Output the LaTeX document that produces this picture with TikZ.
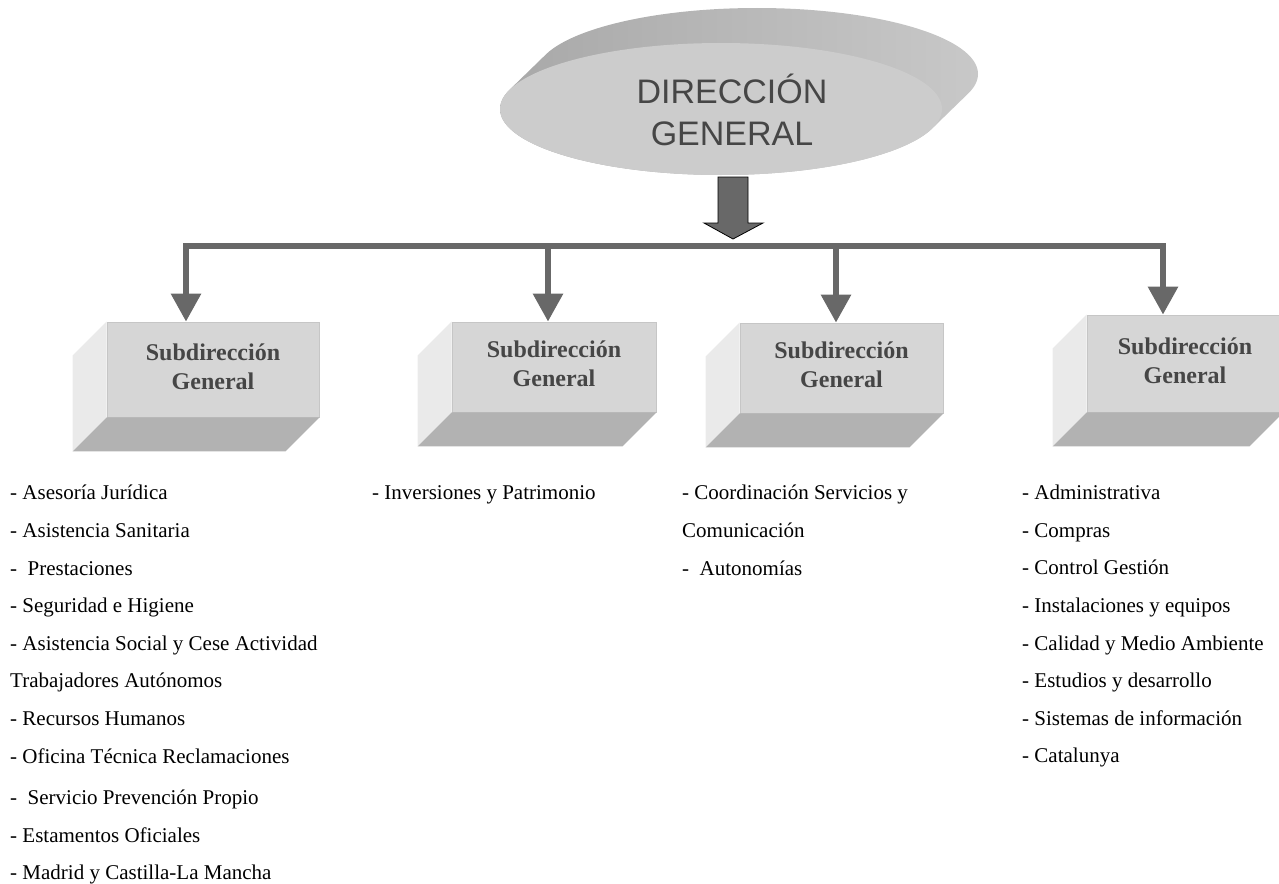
\documentclass[tikz,border=0pt]{standalone}
\usepackage{fontspec}
\setmainfont{Liberation Serif}
\newfontfamily\discfont{Liberation Sans}
\usetikzlibrary{arrows.meta,calc}
\definecolor{BoxFront}{RGB}{214,214,214}
\definecolor{BoxEdge}{RGB}{198,198,198}
\definecolor{BoxSide}{RGB}{234,234,234}
\definecolor{BoxBottom}{RGB}{178,178,178}
\definecolor{ArrowGray}{RGB}{104,104,104}
\definecolor{DiscFront}{RGB}{204,204,204}
\definecolor{DiscSideDark}{RGB}{168,168,168}
\definecolor{DiscSideLight}{RGB}{200,200,200}
\definecolor{TextGray}{RGB}{70,70,70}

\begin{document}
\begin{tikzpicture}[
    x=1pt, y=-1pt,
    disctext/.style={align=center, text=TextGray, inner sep=0pt, font=\discfont\fontsize{34pt}{42pt}\selectfont},
    subbox/.style={rectangle, fill=BoxFront, draw=BoxEdge, line width=0.8pt, inner sep=0pt, align=center, text=TextGray, text depth=6pt, font=\bfseries\fontsize{24pt}{29pt}\selectfont},
    tasks/.style={anchor=north west, inner sep=0pt, align=left, font=\fontsize{21pt}{37.6pt}\selectfont},
    bus/.style={draw=ArrowGray, line width=6pt, line cap=rect},
    drop/.style={draw=ArrowGray, line width=6pt, -{Triangle[width=29pt,length=28pt]}}
  ]
    \path[use as bounding box] (0,0) rectangle (1279,883);

    % Direction disc
    \path[left color=DiscSideDark, right color=DiscSideLight]
      foreach \k in {0,...,36} {(757-\k, 74+\k*35/36) ellipse [x radius=221pt, y radius=66pt]};
    \fill[DiscFront] (721,109) ellipse [x radius=221pt, y radius=66pt];
    \node[disctext] (dg) at (732,110) {DIRECCIÓN\\GENERAL};

    % Big arrow down to the bus
    \coordinate (arrowtop) at (733,177);
    \filldraw[fill=ArrowGray, draw=black, line width=0.8pt]
      (arrowtop) ++(-15,0) -- ++(30,0) -- ++(0,46) -- ++(15,0) -- ++(-30,16) -- ++(-29,-16) -- ++(14,0) -- cycle;

    % Subdirections
    \node[subbox, minimum width=212pt, minimum height=95pt] (sub1) at (213,369.5) {Subdirección\\General};
    \node[subbox, minimum width=204pt, minimum height=90pt] (sub2) at (554,367) {Subdirección\\General};
    \node[subbox, minimum width=203pt, minimum height=90pt] (sub3) at (841.5,368) {Subdirección\\General};
    \node[subbox, minimum width=196pt, minimum height=97pt] (sub4) at (1185,363.5) {Subdirección\\General};

    \foreach \b in {sub1,sub2,sub3,sub4} {
      \fill[BoxSide] (\b.north west) -- (\b.south west) -- ++(-34,34) -- ($(\b.north west)+(-34,34)$) -- cycle;
      \fill[BoxBottom] (\b.south west) -- (\b.south east) -- ++(-34,34) -- ($(\b.south west)+(-34,34)$) -- cycle;
    }

    % Bus and drops
    \coordinate (b1) at (186,246);
    \coordinate (b2) at (548,246);
    \coordinate (b3) at (836,246);
    \coordinate (b4) at (1163,246);
    \draw[bus] (b1) -- (b4);
    \foreach \i in {1,...,4}
      \draw[drop] (b\i) -- (b\i |- sub\i.north);

    % Task lists
    \node[tasks] (list1) at (10,485) {- Asesoría Jurídica\\- Asistencia Sanitaria\\-\ \ Prestaciones\\- Seguridad e Higiene\\- Asistencia Social y Cese Actividad\\Trabajadores Autónomos\\- Recursos Humanos\\- Oficina Técnica Reclamaciones\\[4pt]-\ \ Servicio Prevención Propio\\- Estamentos Oficiales\\- Madrid y Castilla-La Mancha};
    \node[tasks] (list2) at (372,485) {- Inversiones y Patrimonio};
    \node[tasks] (list3) at (682,485) {- Coordinación Servicios y\\Comunicación\\-\ \ Autonomías};
    \node[tasks] (list4) at (1022,485) {- Administrativa\\- Compras\\- Control Gestión\\- Instalaciones y equipos\\- Calidad y Medio Ambiente\\- Estudios y desarrollo\\- Sistemas de información\\- Catalunya};
  \end{tikzpicture}
\end{document}
